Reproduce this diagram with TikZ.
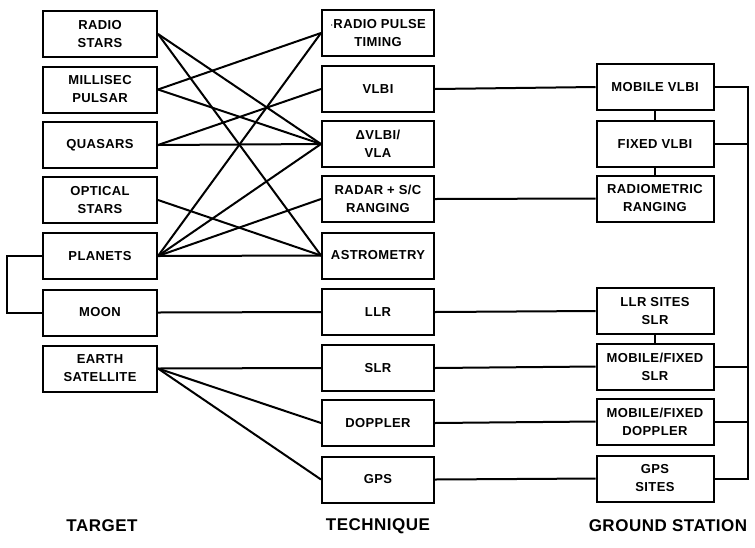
\documentclass[tikz,border=0pt]{standalone}
\usepackage{fontspec}
\setmainfont{Liberation Sans}
\newfontfamily\boxfont[LetterSpace=3]{Liberation Sans}
\begin{document}
\begin{tikzpicture}[x=1pt,y=-1pt,
  box/.style={draw,line width=2pt,minimum height=46pt,align=center,
    font=\boxfont\bfseries\fontsize{13}{18}\selectfont,inner sep=1pt},
  tgt/.style={box,minimum width=114pt},
  tec/.style={box,minimum width=112pt},
  gnd/.style={box,minimum width=117pt},
  conn/.style={line width=2pt},
  lab/.style={font=\boxfont\bfseries\fontsize{17}{19}\selectfont}]
\useasboundingbox (0,0) rectangle (755,547);
% targets
\node[tgt] (rs) at (100,34) {RADIO\\STARS};
\node[tgt] (mp) at (100,89.5) {MILLISEC\\PULSAR};
\node[tgt] (qs) at (100,145) {QUASARS};
\node[tgt] (os) at (100,200) {OPTICAL\\STARS};
\node[tgt] (pl) at (100,256) {PLANETS};
\node[tgt] (mo) at (100,312.5) {MOON};
\node[tgt] (es) at (100,368.5) {EARTH\\SATELLITE};
% techniques
\node[tec] (rpt) at (378,33) {$\cdot$RADIO PULSE\\TIMING};
\node[tec] (vlbi) at (378,89) {VLBI};
\node[tec] (dv) at (378,144) {ΔVLBI/\\VLA};
\node[tec] (rad) at (378,199) {RADAR + S/C\\RANGING};
\node[tec] (ast) at (378,255.5) {ASTROMETRY};
\node[tec] (llr) at (378,312) {LLR};
\node[tec] (slr) at (378,368) {SLR};
\node[tec] (dop) at (378,423) {DOPPLER};
\node[tec] (gps) at (378,479.5) {GPS};
% ground stations
\node[gnd] (mv) at (655,87) {MOBILE VLBI};
\node[gnd] (fv) at (655,144) {FIXED VLBI};
\node[gnd] (rr) at (655,198.5) {RADIOMETRIC\\RANGING};
\node[gnd] (ls) at (655,311) {LLR SITES\\SLR};
\node[gnd] (ms) at (655,366.5) {MOBILE/FIXED\\SLR};
\node[gnd] (md) at (655,421.5) {MOBILE/FIXED\\DOPPLER};
\node[gnd] (gs) at (655,478.5) {GPS\\SITES};
% labels
\node[lab] (lt) at (102,526) {TARGET};
\node[lab] (ltc) at (378,526) {TECHNIQUE};
\node[lab] (lg) at (668,526) {GROUND STATION};
% target -> technique
\draw[conn] (rs.east) -- (dv.west);
\draw[conn] (rs.east) -- (ast.west);
\draw[conn] (mp.east) -- (rpt.west);
\draw[conn] (mp.east) -- (dv.west);
\draw[conn] (qs.east) -- (vlbi.west);
\draw[conn] (qs.east) -- (dv.west);
\draw[conn] (os.east) -- (ast.west);
\draw[conn] (pl.east) -- (rpt.west);
\draw[conn] (pl.east) -- (dv.west);
\draw[conn] (pl.east) -- (rad.west);
\draw[conn] (pl.east) -- (ast.west);
\draw[conn] (mo.east) -- (llr.west);
\draw[conn] (es.east) -- (slr.west);
\draw[conn] (es.east) -- (dop.west);
\draw[conn] (es.east) -- (gps.west);
\draw[conn] (pl.west) -- ++(-35,0) |- (mo.west);
% technique -> ground
\draw[conn] (vlbi.east) -- (mv.west);
\draw[conn] (rad.east) -- (rr.west);
\draw[conn] (llr.east) -- (ls.west);
\draw[conn] (slr.east) -- (ms.west);
\draw[conn] (dop.east) -- (md.west);
\draw[conn] (gps.east) -- (gs.west);
% ground verticals
\draw[conn] (mv.south) -- (fv.north);
\draw[conn] (fv.south) -- (rr.north);
\draw[conn] (ls.south) -- (ms.north);
% bus
\coordinate (bt) at (748,87);
\coordinate (bb) at (748,478.5);
\draw[conn] (mv.east) -- (bt) -- (bb) -- (gs.east);
\draw[conn] (fv.east) -- (fv.east -| bt);
\draw[conn] (ms.east) -- (ms.east -| bt);
\draw[conn] (md.east) -- (md.east -| bt);
\end{tikzpicture}
\end{document}
